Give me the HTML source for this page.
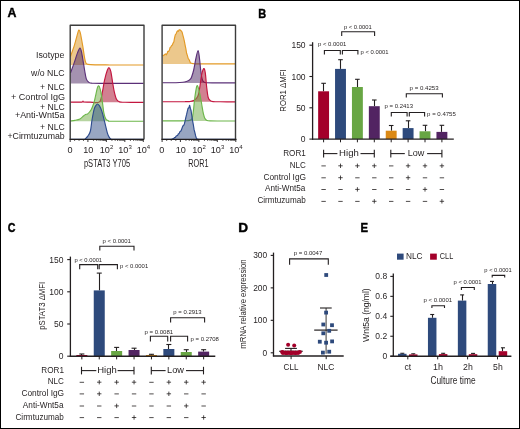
<!DOCTYPE html>
<html><head><meta charset="utf-8"><style>
html,body{margin:0;padding:0;background:#fff;}
svg{display:block;will-change:transform;}
text{font-family:"Liberation Sans",sans-serif;}
</style></head><body>
<svg width="520" height="429" viewBox="0 0 520 429" fill="#231f20">
<rect width="520" height="429" fill="#fff"/>
<text x="7.44" y="17.45" font-size="12.46376811594203" textLength="8.95" lengthAdjust="spacingAndGlyphs" font-weight="bold" fill="#000" stroke="#000" stroke-width="0.4">A</text>
<text x="258.34" y="17.50" font-size="12.39130434782609" textLength="7.93" lengthAdjust="spacingAndGlyphs" font-weight="bold" fill="#000" stroke="#000" stroke-width="0.4">B</text>
<text x="7.72" y="231.53" font-size="12.394366197183116" textLength="7.72" lengthAdjust="spacingAndGlyphs" font-weight="bold" fill="#000" stroke="#000" stroke-width="0.4">C</text>
<text x="238.36" y="231.65" font-size="12.608695652173939" textLength="9.86" lengthAdjust="spacingAndGlyphs" font-weight="bold" fill="#000" stroke="#000" stroke-width="0.4">D</text>
<text x="360.51" y="231.65" font-size="12.463768115942022" textLength="7.56" lengthAdjust="spacingAndGlyphs" font-weight="bold" fill="#000" stroke="#000" stroke-width="0.4">E</text>
<path d="M70.50,56.45 C71.17,54.53 73.33,48.70 74.50,44.95 C75.67,41.20 76.78,36.42 77.50,33.95 C78.22,31.48 78.33,30.32 78.80,30.15 C79.27,29.98 79.62,30.15 80.30,32.95 C80.98,35.75 82.18,42.78 82.90,46.95 C83.62,51.12 84.10,55.28 84.60,57.95 C85.10,60.62 85.33,61.88 85.90,62.95 C86.47,64.02 86.48,64.03 88.00,64.35 C89.52,64.67 91.33,64.75 95.00,64.85 C98.67,64.95 101.92,64.93 110.00,64.95 C118.08,64.97 137.92,64.95 143.50,64.95 L143.50,64.95 L70.70,64.95 Z" stroke="none" fill="#d99119" stroke-width="1.2" fill-opacity="0.5"/>
<path d="M70.50,56.45 C71.17,54.53 73.33,48.70 74.50,44.95 C75.67,41.20 76.78,36.42 77.50,33.95 C78.22,31.48 78.33,30.32 78.80,30.15 C79.27,29.98 79.62,30.15 80.30,32.95 C80.98,35.75 82.18,42.78 82.90,46.95 C83.62,51.12 84.10,55.28 84.60,57.95 C85.10,60.62 85.33,61.88 85.90,62.95 C86.47,64.02 86.48,64.03 88.00,64.35 C89.52,64.67 91.33,64.75 95.00,64.85 C98.67,64.95 101.92,64.93 110.00,64.95 C118.08,64.97 137.92,64.95 143.50,64.95" stroke="#e39a26" fill="none" stroke-width="1.15" stroke-linejoin="round"/>
<path d="M70.50,72.90 C71.08,71.32 72.83,66.73 74.00,63.40 C75.17,60.07 76.50,55.45 77.50,52.90 C78.50,50.35 79.32,48.18 80.00,48.10 C80.68,48.02 80.87,48.92 81.60,52.40 C82.33,55.88 83.62,64.58 84.40,69.00 C85.18,73.42 85.55,76.67 86.30,78.90 C87.05,81.13 87.95,81.68 88.90,82.40 C89.85,83.12 90.15,83.03 92.00,83.20 C93.85,83.37 91.42,83.37 100.00,83.40 C108.58,83.43 136.25,83.40 143.50,83.40 L143.50,83.40 L70.70,83.40 Z" stroke="none" fill="#4b2561" stroke-width="1.2" fill-opacity="0.5"/>
<path d="M70.50,72.90 C71.08,71.32 72.83,66.73 74.00,63.40 C75.17,60.07 76.50,55.45 77.50,52.90 C78.50,50.35 79.32,48.18 80.00,48.10 C80.68,48.02 80.87,48.92 81.60,52.40 C82.33,55.88 83.62,64.58 84.40,69.00 C85.18,73.42 85.55,76.67 86.30,78.90 C87.05,81.13 87.95,81.68 88.90,82.40 C89.85,83.12 90.15,83.03 92.00,83.20 C93.85,83.37 91.42,83.37 100.00,83.40 C108.58,83.43 136.25,83.40 143.50,83.40" stroke="#5b3078" fill="none" stroke-width="1.15" stroke-linejoin="round"/>
<path d="M70.50,102.10 C72.08,102.10 78.03,102.12 80.00,102.10 C81.97,102.08 81.80,102.17 82.30,102.00 C82.80,101.83 82.75,101.10 83.00,101.10 C83.25,101.10 82.63,101.83 83.80,102.00 C84.97,102.17 87.40,102.12 90.00,102.10 C92.60,102.08 97.33,103.60 99.40,101.90 C101.47,100.20 101.55,95.50 102.40,91.90 C103.25,88.30 103.68,83.90 104.50,80.30 C105.32,76.70 106.53,72.40 107.30,70.30 C108.07,68.20 108.52,67.53 109.10,67.70 C109.68,67.87 110.22,68.87 110.80,71.30 C111.38,73.73 112.02,78.87 112.60,82.30 C113.18,85.73 113.65,89.07 114.30,91.90 C114.95,94.73 115.63,97.63 116.50,99.30 C117.37,100.97 118.08,101.40 119.50,101.90 C120.92,102.40 121.00,102.23 125.00,102.30 C129.00,102.37 140.42,102.30 143.50,102.30 L143.50,102.30 L70.70,102.30 Z" stroke="none" fill="#a50123" stroke-width="1.2" fill-opacity="0.5"/>
<path d="M70.50,102.10 C72.08,102.10 78.03,102.12 80.00,102.10 C81.97,102.08 81.80,102.17 82.30,102.00 C82.80,101.83 82.75,101.10 83.00,101.10 C83.25,101.10 82.63,101.83 83.80,102.00 C84.97,102.17 87.40,102.12 90.00,102.10 C92.60,102.08 97.33,103.60 99.40,101.90 C101.47,100.20 101.55,95.50 102.40,91.90 C103.25,88.30 103.68,83.90 104.50,80.30 C105.32,76.70 106.53,72.40 107.30,70.30 C108.07,68.20 108.52,67.53 109.10,67.70 C109.68,67.87 110.22,68.87 110.80,71.30 C111.38,73.73 112.02,78.87 112.60,82.30 C113.18,85.73 113.65,89.07 114.30,91.90 C114.95,94.73 115.63,97.63 116.50,99.30 C117.37,100.97 118.08,101.40 119.50,101.90 C120.92,102.40 121.00,102.23 125.00,102.30 C129.00,102.37 140.42,102.30 143.50,102.30" stroke="#c3163f" fill="none" stroke-width="1.15" stroke-linejoin="round"/>
<path d="M70.50,120.90 C71.25,120.82 73.42,120.72 75.00,120.40 C76.58,120.08 78.58,119.73 80.00,119.00 C81.42,118.27 82.58,116.77 83.50,116.00 C84.42,115.23 84.80,114.75 85.50,114.40 C86.20,114.05 86.78,114.63 87.70,113.90 C88.62,113.17 90.00,111.73 91.00,110.00 C92.00,108.27 92.95,105.80 93.70,103.50 C94.45,101.20 94.90,98.75 95.50,96.20 C96.10,93.65 96.77,89.93 97.30,88.20 C97.83,86.47 98.22,85.63 98.70,85.80 C99.18,85.97 99.72,87.47 100.20,89.20 C100.68,90.93 101.17,93.53 101.60,96.20 C102.03,98.87 102.43,102.45 102.80,105.20 C103.17,107.95 103.43,110.70 103.80,112.70 C104.17,114.70 104.58,116.05 105.00,117.20 C105.42,118.35 105.72,119.00 106.30,119.60 C106.88,120.20 107.55,120.53 108.50,120.80 C109.45,121.07 106.17,121.13 112.00,121.20 C117.83,121.27 138.25,121.20 143.50,121.20 L143.50,121.20 L70.70,121.20 Z" stroke="none" fill="#6da941" stroke-width="1.2" fill-opacity="0.5"/>
<path d="M70.50,120.90 C71.25,120.82 73.42,120.72 75.00,120.40 C76.58,120.08 78.58,119.73 80.00,119.00 C81.42,118.27 82.58,116.77 83.50,116.00 C84.42,115.23 84.80,114.75 85.50,114.40 C86.20,114.05 86.78,114.63 87.70,113.90 C88.62,113.17 90.00,111.73 91.00,110.00 C92.00,108.27 92.95,105.80 93.70,103.50 C94.45,101.20 94.90,98.75 95.50,96.20 C96.10,93.65 96.77,89.93 97.30,88.20 C97.83,86.47 98.22,85.63 98.70,85.80 C99.18,85.97 99.72,87.47 100.20,89.20 C100.68,90.93 101.17,93.53 101.60,96.20 C102.03,98.87 102.43,102.45 102.80,105.20 C103.17,107.95 103.43,110.70 103.80,112.70 C104.17,114.70 104.58,116.05 105.00,117.20 C105.42,118.35 105.72,119.00 106.30,119.60 C106.88,120.20 107.55,120.53 108.50,120.80 C109.45,121.07 106.17,121.13 112.00,121.20 C117.83,121.27 138.25,121.20 143.50,121.20" stroke="#6cb64a" fill="none" stroke-width="1.15" stroke-linejoin="round"/>
<path d="M70.70,139.40 C72.92,139.37 81.53,139.33 84.00,139.20 C86.47,139.07 84.83,139.15 85.50,138.60 C86.17,138.05 87.18,137.17 88.00,135.90 C88.82,134.63 89.73,133.65 90.40,131.00 C91.07,128.35 91.37,123.65 92.00,120.00 C92.63,116.35 93.53,111.53 94.20,109.10 C94.87,106.67 95.45,106.25 96.00,105.40 C96.55,104.55 96.92,103.92 97.50,104.00 C98.08,104.08 98.77,104.67 99.50,105.90 C100.23,107.13 101.03,108.68 101.90,111.40 C102.77,114.12 103.78,118.58 104.70,122.20 C105.62,125.82 106.63,130.57 107.40,133.10 C108.17,135.63 108.70,136.40 109.30,137.40 C109.90,138.40 110.38,138.77 111.00,139.10 C111.62,139.43 107.58,139.35 113.00,139.40 C118.42,139.45 138.42,139.40 143.50,139.40 L143.50,139.40 L70.70,139.40 Z" stroke="none" fill="#314d85" stroke-width="1.2" fill-opacity="0.5"/>
<path d="M70.70,139.40 C72.92,139.37 81.53,139.33 84.00,139.20 C86.47,139.07 84.83,139.15 85.50,138.60 C86.17,138.05 87.18,137.17 88.00,135.90 C88.82,134.63 89.73,133.65 90.40,131.00 C91.07,128.35 91.37,123.65 92.00,120.00 C92.63,116.35 93.53,111.53 94.20,109.10 C94.87,106.67 95.45,106.25 96.00,105.40 C96.55,104.55 96.92,103.92 97.50,104.00 C98.08,104.08 98.77,104.67 99.50,105.90 C100.23,107.13 101.03,108.68 101.90,111.40 C102.77,114.12 103.78,118.58 104.70,122.20 C105.62,125.82 106.63,130.57 107.40,133.10 C108.17,135.63 108.70,136.40 109.30,137.40 C109.90,138.40 110.38,138.77 111.00,139.10 C111.62,139.43 107.58,139.35 113.00,139.40 C118.42,139.45 138.42,139.40 143.50,139.40" stroke="#2d4b8e" fill="none" stroke-width="1.15" stroke-linejoin="round"/>
<path d="M162.60,56.07 L163.35,55.20 L164.10,55.17 L164.85,54.25 L165.60,53.91 L166.35,54.79 L167.10,53.56 L167.85,51.24 L168.60,51.41 L169.35,50.28 L170.10,47.39 L170.85,46.92 L171.60,45.58 L172.35,44.94 L173.10,43.04 L173.85,41.91 L174.60,37.72 L175.35,34.58 L176.10,33.93 L176.85,31.85 L177.60,30.84 L178.35,31.37 L179.10,29.72 L179.85,29.75 L180.60,30.50 L181.35,30.89 L182.10,32.23 L182.85,35.11 L183.60,37.89 L184.35,41.13 L185.10,45.11 L185.85,48.67 L186.60,53.24 L187.35,55.38 L188.10,58.20 L188.85,59.32 L189.60,60.71 L190.35,62.69 L191.10,63.08 L191.85,63.29 L192.60,63.56 L193.35,63.66 L194.10,63.77 L194.85,63.88 L195.60,63.90 L196.35,63.90 L197.10,63.90 L197.85,63.90 L198.60,63.90 L199.35,63.90 L200.10,63.90 L200.85,63.90 L201.60,63.90 L202.35,63.90 L203.10,63.90 L203.85,63.90 L204.60,63.90 L205.35,63.90 L206.10,63.90 L206.85,63.90 L207.60,63.90 L208.35,63.90 L209.10,63.90 L209.85,63.90 L210.60,63.90 L211.35,63.90 L212.10,63.90 L212.85,63.90 L213.60,63.90 L214.35,63.90 L215.10,63.90 L215.85,63.90 L216.60,63.90 L217.35,63.90 L218.10,63.90 L218.85,63.90 L219.60,63.90 L220.35,63.90 L221.10,63.90 L221.85,63.90 L222.60,63.90 L223.35,63.90 L224.10,63.90 L224.85,63.90 L225.60,63.90 L226.35,63.90 L227.10,63.90 L227.85,63.90 L228.60,63.90 L229.35,63.90 L230.10,63.90 L230.85,63.90 L231.60,63.90 L232.35,63.90 L233.10,63.90 L233.85,63.90 L234.60,63.90 L235.00,63.90 L235.00,63.90 L162.60,63.90 Z" stroke="none" fill="#d99119" stroke-width="1.2" fill-opacity="0.5"/>
<path d="M162.60,56.07 L163.35,55.20 L164.10,55.17 L164.85,54.25 L165.60,53.91 L166.35,54.79 L167.10,53.56 L167.85,51.24 L168.60,51.41 L169.35,50.28 L170.10,47.39 L170.85,46.92 L171.60,45.58 L172.35,44.94 L173.10,43.04 L173.85,41.91 L174.60,37.72 L175.35,34.58 L176.10,33.93 L176.85,31.85 L177.60,30.84 L178.35,31.37 L179.10,29.72 L179.85,29.75 L180.60,30.50 L181.35,30.89 L182.10,32.23 L182.85,35.11 L183.60,37.89 L184.35,41.13 L185.10,45.11 L185.85,48.67 L186.60,53.24 L187.35,55.38 L188.10,58.20 L188.85,59.32 L189.60,60.71 L190.35,62.69 L191.10,63.08 L191.85,63.29 L192.60,63.56 L193.35,63.66 L194.10,63.77 L194.85,63.88 L195.60,63.90 L196.35,63.90 L197.10,63.90 L197.85,63.90 L198.60,63.90 L199.35,63.90 L200.10,63.90 L200.85,63.90 L201.60,63.90 L202.35,63.90 L203.10,63.90 L203.85,63.90 L204.60,63.90 L205.35,63.90 L206.10,63.90 L206.85,63.90 L207.60,63.90 L208.35,63.90 L209.10,63.90 L209.85,63.90 L210.60,63.90 L211.35,63.90 L212.10,63.90 L212.85,63.90 L213.60,63.90 L214.35,63.90 L215.10,63.90 L215.85,63.90 L216.60,63.90 L217.35,63.90 L218.10,63.90 L218.85,63.90 L219.60,63.90 L220.35,63.90 L221.10,63.90 L221.85,63.90 L222.60,63.90 L223.35,63.90 L224.10,63.90 L224.85,63.90 L225.60,63.90 L226.35,63.90 L227.10,63.90 L227.85,63.90 L228.60,63.90 L229.35,63.90 L230.10,63.90 L230.85,63.90 L231.60,63.90 L232.35,63.90 L233.10,63.90 L233.85,63.90 L234.60,63.90 L235.00,63.90" stroke="#e39a26" fill="none" stroke-width="1.15" stroke-linejoin="round"/>
<path d="M162.60,82.80 C164.83,82.78 172.62,82.78 176.00,82.70 C179.38,82.62 181.15,82.50 182.90,82.30 C184.65,82.10 185.53,81.80 186.50,81.50 C187.47,81.20 188.07,80.90 188.70,80.50 C189.33,80.10 189.82,79.68 190.30,79.10 C190.78,78.52 191.03,78.52 191.60,77.00 C192.17,75.48 192.98,73.08 193.70,70.00 C194.42,66.92 195.17,61.75 195.90,58.50 C196.63,55.25 197.50,50.50 198.10,50.50 C198.70,50.50 199.08,55.35 199.50,58.50 C199.92,61.65 200.23,66.32 200.60,69.40 C200.97,72.48 201.33,75.12 201.70,77.00 C202.07,78.88 202.45,79.88 202.80,80.70 C203.15,81.52 203.27,81.57 203.80,81.90 C204.33,82.23 204.63,82.53 206.00,82.70 C207.37,82.87 207.17,82.87 212.00,82.90 C216.83,82.93 231.17,82.90 235.00,82.90 L235.00,82.90 L162.60,82.90 Z" stroke="none" fill="#4b2561" stroke-width="1.2" fill-opacity="0.5"/>
<path d="M162.60,82.80 C164.83,82.78 172.62,82.78 176.00,82.70 C179.38,82.62 181.15,82.50 182.90,82.30 C184.65,82.10 185.53,81.80 186.50,81.50 C187.47,81.20 188.07,80.90 188.70,80.50 C189.33,80.10 189.82,79.68 190.30,79.10 C190.78,78.52 191.03,78.52 191.60,77.00 C192.17,75.48 192.98,73.08 193.70,70.00 C194.42,66.92 195.17,61.75 195.90,58.50 C196.63,55.25 197.50,50.50 198.10,50.50 C198.70,50.50 199.08,55.35 199.50,58.50 C199.92,61.65 200.23,66.32 200.60,69.40 C200.97,72.48 201.33,75.12 201.70,77.00 C202.07,78.88 202.45,79.88 202.80,80.70 C203.15,81.52 203.27,81.57 203.80,81.90 C204.33,82.23 204.63,82.53 206.00,82.70 C207.37,82.87 207.17,82.87 212.00,82.90 C216.83,82.93 231.17,82.90 235.00,82.90" stroke="#5b3078" fill="none" stroke-width="1.15" stroke-linejoin="round"/>
<path d="M162.60,101.70 C166.33,101.70 180.43,101.73 185.00,101.70 C189.57,101.67 188.58,101.68 190.00,101.50 C191.42,101.32 192.52,101.03 193.50,100.60 C194.48,100.17 195.23,99.53 195.90,98.90 C196.57,98.27 197.02,97.77 197.50,96.80 C197.98,95.83 198.35,95.15 198.80,93.10 C199.25,91.05 199.72,87.63 200.20,84.50 C200.68,81.37 201.10,76.95 201.70,74.30 C202.30,71.65 203.20,68.83 203.80,68.60 C204.40,68.37 204.82,69.77 205.30,72.90 C205.78,76.03 206.22,83.30 206.70,87.40 C207.18,91.50 207.60,95.30 208.20,97.50 C208.80,99.70 209.50,99.92 210.30,100.60 C211.10,101.28 211.38,101.40 213.00,101.60 C214.62,101.80 216.33,101.77 220.00,101.80 C223.67,101.83 232.50,101.80 235.00,101.80 L235.00,101.80 L162.60,101.80 Z" stroke="none" fill="#a50123" stroke-width="1.2" fill-opacity="0.5"/>
<path d="M162.60,101.70 C166.33,101.70 180.43,101.73 185.00,101.70 C189.57,101.67 188.58,101.68 190.00,101.50 C191.42,101.32 192.52,101.03 193.50,100.60 C194.48,100.17 195.23,99.53 195.90,98.90 C196.57,98.27 197.02,97.77 197.50,96.80 C197.98,95.83 198.35,95.15 198.80,93.10 C199.25,91.05 199.72,87.63 200.20,84.50 C200.68,81.37 201.10,76.95 201.70,74.30 C202.30,71.65 203.20,68.83 203.80,68.60 C204.40,68.37 204.82,69.77 205.30,72.90 C205.78,76.03 206.22,83.30 206.70,87.40 C207.18,91.50 207.60,95.30 208.20,97.50 C208.80,99.70 209.50,99.92 210.30,100.60 C211.10,101.28 211.38,101.40 213.00,101.60 C214.62,101.80 216.33,101.77 220.00,101.80 C223.67,101.83 232.50,101.80 235.00,101.80" stroke="#c3163f" fill="none" stroke-width="1.15" stroke-linejoin="round"/>
<path d="M162.60,120.90 C165.50,120.90 176.10,120.92 180.00,120.90 C183.90,120.88 184.40,120.88 186.00,120.80 C187.60,120.72 188.70,120.63 189.60,120.40 C190.50,120.17 190.93,119.88 191.40,119.40 C191.87,118.92 192.05,119.07 192.40,117.50 C192.75,115.93 193.15,112.88 193.50,110.00 C193.85,107.12 194.10,103.47 194.50,100.20 C194.90,96.93 195.43,92.85 195.90,90.40 C196.37,87.95 196.72,85.27 197.30,85.50 C197.88,85.73 198.70,88.88 199.40,91.80 C200.10,94.72 200.92,99.73 201.50,103.00 C202.08,106.27 202.48,109.23 202.90,111.40 C203.32,113.57 203.65,114.80 204.00,116.00 C204.35,117.20 204.50,117.87 205.00,118.60 C205.50,119.33 206.17,120.02 207.00,120.40 C207.83,120.78 207.83,120.80 210.00,120.90 C212.17,121.00 215.83,120.98 220.00,121.00 C224.17,121.02 232.50,121.00 235.00,121.00 L235.00,121.00 L162.60,121.00 Z" stroke="none" fill="#6da941" stroke-width="1.2" fill-opacity="0.5"/>
<path d="M162.60,120.90 C165.50,120.90 176.10,120.92 180.00,120.90 C183.90,120.88 184.40,120.88 186.00,120.80 C187.60,120.72 188.70,120.63 189.60,120.40 C190.50,120.17 190.93,119.88 191.40,119.40 C191.87,118.92 192.05,119.07 192.40,117.50 C192.75,115.93 193.15,112.88 193.50,110.00 C193.85,107.12 194.10,103.47 194.50,100.20 C194.90,96.93 195.43,92.85 195.90,90.40 C196.37,87.95 196.72,85.27 197.30,85.50 C197.88,85.73 198.70,88.88 199.40,91.80 C200.10,94.72 200.92,99.73 201.50,103.00 C202.08,106.27 202.48,109.23 202.90,111.40 C203.32,113.57 203.65,114.80 204.00,116.00 C204.35,117.20 204.50,117.87 205.00,118.60 C205.50,119.33 206.17,120.02 207.00,120.40 C207.83,120.78 207.83,120.80 210.00,120.90 C212.17,121.00 215.83,120.98 220.00,121.00 C224.17,121.02 232.50,121.00 235.00,121.00" stroke="#6cb64a" fill="none" stroke-width="1.15" stroke-linejoin="round"/>
<path d="M162.60,139.40 L163.35,139.40 L164.10,139.40 L164.85,139.40 L165.60,139.40 L166.35,139.40 L167.10,139.40 L167.85,139.40 L168.60,139.40 L169.35,139.40 L170.10,139.39 L170.85,139.27 L171.60,139.16 L172.35,138.93 L173.10,138.64 L173.85,138.43 L174.60,137.46 L175.35,137.54 L176.10,136.13 L176.85,135.67 L177.60,135.43 L178.35,133.84 L179.10,133.61 L179.85,131.80 L180.60,131.35 L181.35,130.14 L182.10,128.04 L182.85,125.81 L183.60,125.58 L184.35,123.90 L185.10,120.87 L185.85,117.29 L186.60,114.46 L187.35,111.04 L188.10,108.04 L188.85,108.22 L189.60,105.25 L190.35,108.15 L191.10,110.74 L191.85,116.04 L192.60,120.94 L193.35,124.78 L194.10,129.67 L194.85,132.50 L195.60,135.72 L196.35,138.10 L197.10,139.02 L197.85,139.17 L198.60,139.32 L199.35,139.40 L200.10,139.40 L200.85,139.40 L201.60,139.40 L202.35,139.40 L203.10,139.40 L203.85,139.40 L204.60,139.40 L205.35,139.40 L206.10,139.40 L206.85,139.40 L207.60,139.40 L208.35,139.40 L209.10,139.40 L209.85,139.40 L210.60,139.40 L211.35,139.40 L212.10,139.40 L212.85,139.40 L213.60,139.40 L214.35,139.40 L215.10,139.40 L215.85,139.40 L216.60,139.40 L217.35,139.40 L218.10,139.40 L218.85,139.40 L219.60,139.40 L220.35,139.40 L221.10,139.40 L221.85,139.40 L222.60,139.40 L223.35,139.40 L224.10,139.40 L224.85,139.40 L225.60,139.40 L226.35,139.40 L227.10,139.40 L227.85,139.40 L228.60,139.40 L229.35,139.40 L230.10,139.40 L230.85,139.40 L231.60,139.40 L232.35,139.40 L233.10,139.40 L233.85,139.40 L234.60,139.40 L235.00,139.40 L235.00,139.40 L162.60,139.40 Z" stroke="none" fill="#314d85" stroke-width="1.2" fill-opacity="0.5"/>
<path d="M162.60,139.40 L163.35,139.40 L164.10,139.40 L164.85,139.40 L165.60,139.40 L166.35,139.40 L167.10,139.40 L167.85,139.40 L168.60,139.40 L169.35,139.40 L170.10,139.39 L170.85,139.27 L171.60,139.16 L172.35,138.93 L173.10,138.64 L173.85,138.43 L174.60,137.46 L175.35,137.54 L176.10,136.13 L176.85,135.67 L177.60,135.43 L178.35,133.84 L179.10,133.61 L179.85,131.80 L180.60,131.35 L181.35,130.14 L182.10,128.04 L182.85,125.81 L183.60,125.58 L184.35,123.90 L185.10,120.87 L185.85,117.29 L186.60,114.46 L187.35,111.04 L188.10,108.04 L188.85,108.22 L189.60,105.25 L190.35,108.15 L191.10,110.74 L191.85,116.04 L192.60,120.94 L193.35,124.78 L194.10,129.67 L194.85,132.50 L195.60,135.72 L196.35,138.10 L197.10,139.02 L197.85,139.17 L198.60,139.32 L199.35,139.40 L200.10,139.40 L200.85,139.40 L201.60,139.40 L202.35,139.40 L203.10,139.40 L203.85,139.40 L204.60,139.40 L205.35,139.40 L206.10,139.40 L206.85,139.40 L207.60,139.40 L208.35,139.40 L209.10,139.40 L209.85,139.40 L210.60,139.40 L211.35,139.40 L212.10,139.40 L212.85,139.40 L213.60,139.40 L214.35,139.40 L215.10,139.40 L215.85,139.40 L216.60,139.40 L217.35,139.40 L218.10,139.40 L218.85,139.40 L219.60,139.40 L220.35,139.40 L221.10,139.40 L221.85,139.40 L222.60,139.40 L223.35,139.40 L224.10,139.40 L224.85,139.40 L225.60,139.40 L226.35,139.40 L227.10,139.40 L227.85,139.40 L228.60,139.40 L229.35,139.40 L230.10,139.40 L230.85,139.40 L231.60,139.40 L232.35,139.40 L233.10,139.40 L233.85,139.40 L234.60,139.40 L235.00,139.40" stroke="#2d4b8e" fill="none" stroke-width="1.15" stroke-linejoin="round"/>
<path d="M70.2,139.4 L70.2,25.2 L144.0,25.2 L144.0,139.4" stroke="#3c3c3c" fill="none" stroke-width="1.4" stroke-linejoin="round"/>
<path d="M162.1,139.4 L162.1,25.2 L235.5,25.2 L235.5,139.4" stroke="#3c3c3c" fill="none" stroke-width="1.4" stroke-linejoin="round"/>
<line x1="69.50" y1="139.40" x2="144.01" y2="139.40" stroke="#231f20" stroke-width="1.3"/>
<line x1="70.20" y1="139.40" x2="70.20" y2="142.00" stroke="#231f20" stroke-width="0.9"/>
<line x1="87.90" y1="139.40" x2="87.90" y2="142.00" stroke="#231f20" stroke-width="0.9"/>
<line x1="106.37" y1="139.40" x2="106.37" y2="142.00" stroke="#231f20" stroke-width="0.9"/>
<line x1="124.84" y1="139.40" x2="124.84" y2="142.00" stroke="#231f20" stroke-width="0.9"/>
<line x1="143.31" y1="139.40" x2="143.31" y2="142.00" stroke="#231f20" stroke-width="0.9"/>
<line x1="74.62" y1="139.40" x2="74.62" y2="141.00" stroke="#231f20" stroke-width="0.7"/>
<line x1="79.05" y1="139.40" x2="79.05" y2="141.00" stroke="#231f20" stroke-width="0.7"/>
<line x1="83.48" y1="139.40" x2="83.48" y2="141.00" stroke="#231f20" stroke-width="0.7"/>
<line x1="93.46" y1="139.40" x2="93.46" y2="141.00" stroke="#231f20" stroke-width="0.7"/>
<line x1="96.71" y1="139.40" x2="96.71" y2="141.00" stroke="#231f20" stroke-width="0.7"/>
<line x1="99.02" y1="139.40" x2="99.02" y2="141.00" stroke="#231f20" stroke-width="0.7"/>
<line x1="100.81" y1="139.40" x2="100.81" y2="141.00" stroke="#231f20" stroke-width="0.7"/>
<line x1="102.27" y1="139.40" x2="102.27" y2="141.00" stroke="#231f20" stroke-width="0.7"/>
<line x1="103.51" y1="139.40" x2="103.51" y2="141.00" stroke="#231f20" stroke-width="0.7"/>
<line x1="104.58" y1="139.40" x2="104.58" y2="141.00" stroke="#231f20" stroke-width="0.7"/>
<line x1="105.52" y1="139.40" x2="105.52" y2="141.00" stroke="#231f20" stroke-width="0.7"/>
<line x1="111.93" y1="139.40" x2="111.93" y2="141.00" stroke="#231f20" stroke-width="0.7"/>
<line x1="115.18" y1="139.40" x2="115.18" y2="141.00" stroke="#231f20" stroke-width="0.7"/>
<line x1="117.49" y1="139.40" x2="117.49" y2="141.00" stroke="#231f20" stroke-width="0.7"/>
<line x1="119.28" y1="139.40" x2="119.28" y2="141.00" stroke="#231f20" stroke-width="0.7"/>
<line x1="120.74" y1="139.40" x2="120.74" y2="141.00" stroke="#231f20" stroke-width="0.7"/>
<line x1="121.98" y1="139.40" x2="121.98" y2="141.00" stroke="#231f20" stroke-width="0.7"/>
<line x1="123.05" y1="139.40" x2="123.05" y2="141.00" stroke="#231f20" stroke-width="0.7"/>
<line x1="123.99" y1="139.40" x2="123.99" y2="141.00" stroke="#231f20" stroke-width="0.7"/>
<line x1="130.40" y1="139.40" x2="130.40" y2="141.00" stroke="#231f20" stroke-width="0.7"/>
<line x1="133.65" y1="139.40" x2="133.65" y2="141.00" stroke="#231f20" stroke-width="0.7"/>
<line x1="135.96" y1="139.40" x2="135.96" y2="141.00" stroke="#231f20" stroke-width="0.7"/>
<line x1="137.75" y1="139.40" x2="137.75" y2="141.00" stroke="#231f20" stroke-width="0.7"/>
<line x1="139.21" y1="139.40" x2="139.21" y2="141.00" stroke="#231f20" stroke-width="0.7"/>
<line x1="140.45" y1="139.40" x2="140.45" y2="141.00" stroke="#231f20" stroke-width="0.7"/>
<line x1="141.52" y1="139.40" x2="141.52" y2="141.00" stroke="#231f20" stroke-width="0.7"/>
<line x1="142.46" y1="139.40" x2="142.46" y2="141.00" stroke="#231f20" stroke-width="0.7"/>
<text x="70.00" y="153.00" font-size="9.1" text-anchor="middle">0</text>
<text x="88.20" y="153.00" font-size="9.1" text-anchor="middle">10</text>
<text x="104.77" y="153.00" font-size="9.1" text-anchor="middle">10</text>
<text x="109.93" y="148.80" font-size="6.0">2</text>
<text x="123.24" y="153.00" font-size="9.1" text-anchor="middle">10</text>
<text x="128.40" y="148.80" font-size="6.0">3</text>
<text x="141.71" y="153.00" font-size="9.1" text-anchor="middle">10</text>
<text x="146.87" y="148.80" font-size="6.0">4</text>
<line x1="161.40" y1="139.40" x2="236.51" y2="139.40" stroke="#231f20" stroke-width="1.3"/>
<line x1="162.10" y1="139.40" x2="162.10" y2="142.00" stroke="#231f20" stroke-width="0.9"/>
<line x1="180.40" y1="139.40" x2="180.40" y2="142.00" stroke="#231f20" stroke-width="0.9"/>
<line x1="198.87" y1="139.40" x2="198.87" y2="142.00" stroke="#231f20" stroke-width="0.9"/>
<line x1="217.34" y1="139.40" x2="217.34" y2="142.00" stroke="#231f20" stroke-width="0.9"/>
<line x1="235.81" y1="139.40" x2="235.81" y2="142.00" stroke="#231f20" stroke-width="0.9"/>
<line x1="166.68" y1="139.40" x2="166.68" y2="141.00" stroke="#231f20" stroke-width="0.7"/>
<line x1="171.25" y1="139.40" x2="171.25" y2="141.00" stroke="#231f20" stroke-width="0.7"/>
<line x1="175.82" y1="139.40" x2="175.82" y2="141.00" stroke="#231f20" stroke-width="0.7"/>
<line x1="185.96" y1="139.40" x2="185.96" y2="141.00" stroke="#231f20" stroke-width="0.7"/>
<line x1="189.21" y1="139.40" x2="189.21" y2="141.00" stroke="#231f20" stroke-width="0.7"/>
<line x1="191.52" y1="139.40" x2="191.52" y2="141.00" stroke="#231f20" stroke-width="0.7"/>
<line x1="193.31" y1="139.40" x2="193.31" y2="141.00" stroke="#231f20" stroke-width="0.7"/>
<line x1="194.77" y1="139.40" x2="194.77" y2="141.00" stroke="#231f20" stroke-width="0.7"/>
<line x1="196.01" y1="139.40" x2="196.01" y2="141.00" stroke="#231f20" stroke-width="0.7"/>
<line x1="197.08" y1="139.40" x2="197.08" y2="141.00" stroke="#231f20" stroke-width="0.7"/>
<line x1="198.02" y1="139.40" x2="198.02" y2="141.00" stroke="#231f20" stroke-width="0.7"/>
<line x1="204.43" y1="139.40" x2="204.43" y2="141.00" stroke="#231f20" stroke-width="0.7"/>
<line x1="207.68" y1="139.40" x2="207.68" y2="141.00" stroke="#231f20" stroke-width="0.7"/>
<line x1="209.99" y1="139.40" x2="209.99" y2="141.00" stroke="#231f20" stroke-width="0.7"/>
<line x1="211.78" y1="139.40" x2="211.78" y2="141.00" stroke="#231f20" stroke-width="0.7"/>
<line x1="213.24" y1="139.40" x2="213.24" y2="141.00" stroke="#231f20" stroke-width="0.7"/>
<line x1="214.48" y1="139.40" x2="214.48" y2="141.00" stroke="#231f20" stroke-width="0.7"/>
<line x1="215.55" y1="139.40" x2="215.55" y2="141.00" stroke="#231f20" stroke-width="0.7"/>
<line x1="216.49" y1="139.40" x2="216.49" y2="141.00" stroke="#231f20" stroke-width="0.7"/>
<line x1="222.90" y1="139.40" x2="222.90" y2="141.00" stroke="#231f20" stroke-width="0.7"/>
<line x1="226.15" y1="139.40" x2="226.15" y2="141.00" stroke="#231f20" stroke-width="0.7"/>
<line x1="228.46" y1="139.40" x2="228.46" y2="141.00" stroke="#231f20" stroke-width="0.7"/>
<line x1="230.25" y1="139.40" x2="230.25" y2="141.00" stroke="#231f20" stroke-width="0.7"/>
<line x1="231.71" y1="139.40" x2="231.71" y2="141.00" stroke="#231f20" stroke-width="0.7"/>
<line x1="232.95" y1="139.40" x2="232.95" y2="141.00" stroke="#231f20" stroke-width="0.7"/>
<line x1="234.02" y1="139.40" x2="234.02" y2="141.00" stroke="#231f20" stroke-width="0.7"/>
<line x1="234.96" y1="139.40" x2="234.96" y2="141.00" stroke="#231f20" stroke-width="0.7"/>
<text x="161.90" y="153.00" font-size="9.1" text-anchor="middle">0</text>
<text x="180.70" y="153.00" font-size="9.1" text-anchor="middle">10</text>
<text x="197.27" y="153.00" font-size="9.1" text-anchor="middle">10</text>
<text x="202.43" y="148.80" font-size="6.0">2</text>
<text x="215.74" y="153.00" font-size="9.1" text-anchor="middle">10</text>
<text x="220.90" y="148.80" font-size="6.0">3</text>
<text x="234.21" y="153.00" font-size="9.1" text-anchor="middle">10</text>
<text x="239.37" y="148.80" font-size="6.0">4</text>
<text x="83.91" y="166.90" font-size="10.0" textLength="46.19" lengthAdjust="spacingAndGlyphs">pSTAT3 Y705</text>
<text x="188.22" y="166.70" font-size="10.2" textLength="20.27" lengthAdjust="spacingAndGlyphs">ROR1</text>
<text x="36.01" y="58.40" font-size="8.5" textLength="28.38" lengthAdjust="spacingAndGlyphs">Isotype</text>
<text x="31.10" y="76.10" font-size="8.5" textLength="33.49" lengthAdjust="spacingAndGlyphs">w/o NLC</text>
<text x="40.07" y="90.20" font-size="8.5" textLength="24.70" lengthAdjust="spacingAndGlyphs">+ NLC</text>
<text x="11.05" y="100.20" font-size="8.5" textLength="54.03" lengthAdjust="spacingAndGlyphs">+ Control IgG</text>
<text x="40.07" y="109.80" font-size="8.5" textLength="24.70" lengthAdjust="spacingAndGlyphs">+ NLC</text>
<text x="14.95" y="118.20" font-size="8.5" textLength="49.45" lengthAdjust="spacingAndGlyphs">+Anti-Wnt5a</text>
<text x="40.07" y="130.00" font-size="8.5" textLength="24.70" lengthAdjust="spacingAndGlyphs">+ NLC</text>
<text x="7.46" y="139.40" font-size="8.5" textLength="57.29" lengthAdjust="spacingAndGlyphs">+Cirmtuzumab</text>
<line x1="312.60" y1="42.20" x2="312.60" y2="139.70" stroke="#231f20" stroke-width="1.3"/>
<line x1="309.40" y1="139.10" x2="312.60" y2="139.10" stroke="#231f20" stroke-width="1.1"/>
<text x="305.60" y="142.10" font-size="8.5" text-anchor="end">0</text>
<line x1="309.40" y1="107.80" x2="312.60" y2="107.80" stroke="#231f20" stroke-width="1.1"/>
<text x="305.60" y="110.80" font-size="8.5" text-anchor="end">50</text>
<line x1="309.40" y1="76.50" x2="312.60" y2="76.50" stroke="#231f20" stroke-width="1.1"/>
<text x="305.60" y="79.50" font-size="8.5" text-anchor="end">100</text>
<line x1="309.40" y1="45.20" x2="312.60" y2="45.20" stroke="#231f20" stroke-width="1.1"/>
<text x="305.60" y="48.20" font-size="8.5" text-anchor="end">150</text>
<text x="0" y="0" font-size="9.7" text-anchor="middle" textLength="42.3" lengthAdjust="spacingAndGlyphs" fill="#231f20" transform="translate(286.0,90.5) rotate(-90)">ROR1 ΔMFI</text>
<line x1="323.50" y1="91.30" x2="323.50" y2="83.30" stroke="#231f20" stroke-width="1.1"/>
<line x1="321.30" y1="83.30" x2="325.90" y2="83.30" stroke="#231f20" stroke-width="1.1"/>
<rect x="318.15" y="91.30" width="10.90" height="47.80" fill="#a3002a"/>
<line x1="340.50" y1="68.90" x2="340.50" y2="59.70" stroke="#231f20" stroke-width="1.1"/>
<line x1="338.20" y1="59.70" x2="342.80" y2="59.70" stroke="#231f20" stroke-width="1.1"/>
<rect x="335.05" y="68.90" width="10.90" height="70.20" fill="#2e4a7c"/>
<line x1="357.50" y1="87.00" x2="357.50" y2="79.30" stroke="#231f20" stroke-width="1.1"/>
<line x1="355.10" y1="79.30" x2="359.70" y2="79.30" stroke="#231f20" stroke-width="1.1"/>
<rect x="351.95" y="87.00" width="10.90" height="52.10" fill="#68a644"/>
<line x1="374.50" y1="106.20" x2="374.50" y2="100.00" stroke="#231f20" stroke-width="1.1"/>
<line x1="372.00" y1="100.00" x2="376.60" y2="100.00" stroke="#231f20" stroke-width="1.1"/>
<rect x="368.85" y="106.20" width="10.90" height="32.90" fill="#522462"/>
<line x1="391.50" y1="130.70" x2="391.50" y2="125.50" stroke="#231f20" stroke-width="1.1"/>
<line x1="388.90" y1="125.50" x2="393.50" y2="125.50" stroke="#231f20" stroke-width="1.1"/>
<rect x="385.75" y="130.70" width="10.90" height="8.40" fill="#db8915"/>
<line x1="408.50" y1="128.10" x2="408.50" y2="120.80" stroke="#231f20" stroke-width="1.1"/>
<line x1="405.80" y1="120.80" x2="410.40" y2="120.80" stroke="#231f20" stroke-width="1.1"/>
<rect x="402.65" y="128.10" width="10.90" height="11.00" fill="#2e4a7c"/>
<line x1="425.50" y1="131.30" x2="425.50" y2="125.30" stroke="#231f20" stroke-width="1.1"/>
<line x1="422.70" y1="125.30" x2="427.30" y2="125.30" stroke="#231f20" stroke-width="1.1"/>
<rect x="419.55" y="131.30" width="10.90" height="7.80" fill="#68a644"/>
<line x1="441.50" y1="131.90" x2="441.50" y2="125.30" stroke="#231f20" stroke-width="1.1"/>
<line x1="439.60" y1="125.30" x2="444.20" y2="125.30" stroke="#231f20" stroke-width="1.1"/>
<rect x="436.45" y="131.90" width="10.90" height="7.20" fill="#522462"/>
<line x1="312.00" y1="139.10" x2="453.80" y2="139.10" stroke="#231f20" stroke-width="1.4"/>
<line x1="323.60" y1="139.10" x2="323.60" y2="142.30" stroke="#231f20" stroke-width="1.0"/>
<line x1="340.50" y1="139.10" x2="340.50" y2="142.30" stroke="#231f20" stroke-width="1.0"/>
<line x1="357.40" y1="139.10" x2="357.40" y2="142.30" stroke="#231f20" stroke-width="1.0"/>
<line x1="374.30" y1="139.10" x2="374.30" y2="142.30" stroke="#231f20" stroke-width="1.0"/>
<line x1="391.20" y1="139.10" x2="391.20" y2="142.30" stroke="#231f20" stroke-width="1.0"/>
<line x1="408.10" y1="139.10" x2="408.10" y2="142.30" stroke="#231f20" stroke-width="1.0"/>
<line x1="425.00" y1="139.10" x2="425.00" y2="142.30" stroke="#231f20" stroke-width="1.0"/>
<line x1="441.90" y1="139.10" x2="441.90" y2="142.30" stroke="#231f20" stroke-width="1.0"/>
<path d="M341.70,36.10 L341.70,31.80 L374.60,31.80 L374.60,36.10" stroke="#231f20" fill="none" stroke-width="1.1" stroke-linejoin="miter"/>
<text x="343.92" y="28.50" font-size="5.8" textLength="27.77" lengthAdjust="spacingAndGlyphs">p &lt; 0.0001</text>
<path d="M324.40,54.50 L324.40,50.50 L340.30,50.50 L340.30,54.50" stroke="#231f20" fill="none" stroke-width="1.1" stroke-linejoin="miter"/>
<path d="M342.40,54.50 L342.40,50.50 L357.90,50.50 L357.90,54.50" stroke="#231f20" fill="none" stroke-width="1.1" stroke-linejoin="miter"/>
<text x="317.91" y="46.20" font-size="5.8" textLength="28.38" lengthAdjust="spacingAndGlyphs">p &lt; 0.0001</text>
<text x="360.62" y="54.00" font-size="5.8" textLength="27.87" lengthAdjust="spacingAndGlyphs">p &lt; 0.0001</text>
<path d="M406.30,97.60 L406.30,93.70 L442.40,93.70 L442.40,97.60" stroke="#231f20" fill="none" stroke-width="1.1" stroke-linejoin="miter"/>
<text x="409.60" y="90.00" font-size="5.8" textLength="29.07" lengthAdjust="spacingAndGlyphs">p = 0.4253</text>
<path d="M391.30,116.40 L391.30,112.50 L407.10,112.50 L407.10,116.40" stroke="#231f20" fill="none" stroke-width="1.1" stroke-linejoin="miter"/>
<path d="M409.30,116.40 L409.30,112.50 L424.60,112.50 L424.60,116.40" stroke="#231f20" fill="none" stroke-width="1.1" stroke-linejoin="miter"/>
<text x="384.61" y="107.60" font-size="5.8" textLength="28.35" lengthAdjust="spacingAndGlyphs">p = 0.2413</text>
<text x="427.11" y="116.00" font-size="5.8" textLength="28.73" lengthAdjust="spacingAndGlyphs">p = 0.4755</text>
<text x="283.25" y="156.00" font-size="8.5" textLength="22.58" lengthAdjust="spacingAndGlyphs">ROR1</text>
<text x="289.66" y="167.80" font-size="8.5" textLength="16.07" lengthAdjust="spacingAndGlyphs">NLC</text>
<text x="263.38" y="179.70" font-size="8.5" textLength="42.63" lengthAdjust="spacingAndGlyphs">Control IgG</text>
<text x="264.96" y="191.40" font-size="8.5" textLength="40.45" lengthAdjust="spacingAndGlyphs">Anti-Wnt5a</text>
<text x="257.39" y="203.30" font-size="8.5" textLength="48.34" lengthAdjust="spacingAndGlyphs">Cirmtuzumab</text>
<line x1="321.40" y1="165.90" x2="325.80" y2="165.90" stroke="#231f20" stroke-width="0.8"/>
<line x1="338.30" y1="165.80" x2="342.70" y2="165.80" stroke="#231f20" stroke-width="0.8"/>
<line x1="340.50" y1="163.60" x2="340.50" y2="168.00" stroke="#231f20" stroke-width="0.8"/>
<line x1="355.20" y1="165.80" x2="359.60" y2="165.80" stroke="#231f20" stroke-width="0.8"/>
<line x1="357.40" y1="163.60" x2="357.40" y2="168.00" stroke="#231f20" stroke-width="0.8"/>
<line x1="372.10" y1="165.80" x2="376.50" y2="165.80" stroke="#231f20" stroke-width="0.8"/>
<line x1="374.30" y1="163.60" x2="374.30" y2="168.00" stroke="#231f20" stroke-width="0.8"/>
<line x1="389.00" y1="165.90" x2="393.40" y2="165.90" stroke="#231f20" stroke-width="0.8"/>
<line x1="405.90" y1="165.80" x2="410.30" y2="165.80" stroke="#231f20" stroke-width="0.8"/>
<line x1="408.10" y1="163.60" x2="408.10" y2="168.00" stroke="#231f20" stroke-width="0.8"/>
<line x1="422.80" y1="165.80" x2="427.20" y2="165.80" stroke="#231f20" stroke-width="0.8"/>
<line x1="425.00" y1="163.60" x2="425.00" y2="168.00" stroke="#231f20" stroke-width="0.8"/>
<line x1="439.70" y1="165.80" x2="444.10" y2="165.80" stroke="#231f20" stroke-width="0.8"/>
<line x1="441.90" y1="163.60" x2="441.90" y2="168.00" stroke="#231f20" stroke-width="0.8"/>
<line x1="321.40" y1="177.80" x2="325.80" y2="177.80" stroke="#231f20" stroke-width="0.8"/>
<line x1="338.30" y1="177.70" x2="342.70" y2="177.70" stroke="#231f20" stroke-width="0.8"/>
<line x1="340.50" y1="175.50" x2="340.50" y2="179.90" stroke="#231f20" stroke-width="0.8"/>
<line x1="355.20" y1="177.80" x2="359.60" y2="177.80" stroke="#231f20" stroke-width="0.8"/>
<line x1="372.10" y1="177.80" x2="376.50" y2="177.80" stroke="#231f20" stroke-width="0.8"/>
<line x1="389.00" y1="177.80" x2="393.40" y2="177.80" stroke="#231f20" stroke-width="0.8"/>
<line x1="405.90" y1="177.70" x2="410.30" y2="177.70" stroke="#231f20" stroke-width="0.8"/>
<line x1="408.10" y1="175.50" x2="408.10" y2="179.90" stroke="#231f20" stroke-width="0.8"/>
<line x1="422.80" y1="177.80" x2="427.20" y2="177.80" stroke="#231f20" stroke-width="0.8"/>
<line x1="439.70" y1="177.80" x2="444.10" y2="177.80" stroke="#231f20" stroke-width="0.8"/>
<line x1="321.40" y1="189.50" x2="325.80" y2="189.50" stroke="#231f20" stroke-width="0.8"/>
<line x1="338.30" y1="189.50" x2="342.70" y2="189.50" stroke="#231f20" stroke-width="0.8"/>
<line x1="355.20" y1="189.40" x2="359.60" y2="189.40" stroke="#231f20" stroke-width="0.8"/>
<line x1="357.40" y1="187.20" x2="357.40" y2="191.60" stroke="#231f20" stroke-width="0.8"/>
<line x1="372.10" y1="189.50" x2="376.50" y2="189.50" stroke="#231f20" stroke-width="0.8"/>
<line x1="389.00" y1="189.50" x2="393.40" y2="189.50" stroke="#231f20" stroke-width="0.8"/>
<line x1="405.90" y1="189.50" x2="410.30" y2="189.50" stroke="#231f20" stroke-width="0.8"/>
<line x1="422.80" y1="189.40" x2="427.20" y2="189.40" stroke="#231f20" stroke-width="0.8"/>
<line x1="425.00" y1="187.20" x2="425.00" y2="191.60" stroke="#231f20" stroke-width="0.8"/>
<line x1="439.70" y1="189.50" x2="444.10" y2="189.50" stroke="#231f20" stroke-width="0.8"/>
<line x1="321.40" y1="201.40" x2="325.80" y2="201.40" stroke="#231f20" stroke-width="0.8"/>
<line x1="338.30" y1="201.40" x2="342.70" y2="201.40" stroke="#231f20" stroke-width="0.8"/>
<line x1="355.20" y1="201.40" x2="359.60" y2="201.40" stroke="#231f20" stroke-width="0.8"/>
<line x1="372.10" y1="201.30" x2="376.50" y2="201.30" stroke="#231f20" stroke-width="0.8"/>
<line x1="374.30" y1="199.10" x2="374.30" y2="203.50" stroke="#231f20" stroke-width="0.8"/>
<line x1="389.00" y1="201.40" x2="393.40" y2="201.40" stroke="#231f20" stroke-width="0.8"/>
<line x1="405.90" y1="201.40" x2="410.30" y2="201.40" stroke="#231f20" stroke-width="0.8"/>
<line x1="422.80" y1="201.40" x2="427.20" y2="201.40" stroke="#231f20" stroke-width="0.8"/>
<line x1="439.70" y1="201.30" x2="444.10" y2="201.30" stroke="#231f20" stroke-width="0.8"/>
<line x1="441.90" y1="199.10" x2="441.90" y2="203.50" stroke="#231f20" stroke-width="0.8"/>
<line x1="323.60" y1="153.60" x2="337.40" y2="153.60" stroke="#231f20" stroke-width="1.1"/>
<line x1="360.50" y1="153.60" x2="374.30" y2="153.60" stroke="#231f20" stroke-width="1.1"/>
<line x1="323.60" y1="149.80" x2="323.60" y2="157.40" stroke="#231f20" stroke-width="1.1"/>
<line x1="374.30" y1="149.80" x2="374.30" y2="157.40" stroke="#231f20" stroke-width="1.1"/>
<text x="339.13" y="156.00" font-size="9.0" textLength="19.71" lengthAdjust="spacingAndGlyphs">High</text>
<line x1="390.80" y1="153.60" x2="404.80" y2="153.60" stroke="#231f20" stroke-width="1.1"/>
<line x1="427.10" y1="153.60" x2="441.90" y2="153.60" stroke="#231f20" stroke-width="1.1"/>
<line x1="390.80" y1="149.80" x2="390.80" y2="157.40" stroke="#231f20" stroke-width="1.1"/>
<line x1="441.90" y1="149.80" x2="441.90" y2="157.40" stroke="#231f20" stroke-width="1.1"/>
<text x="407.68" y="156.00" font-size="9.0" textLength="16.62" lengthAdjust="spacingAndGlyphs">Low</text>
<line x1="70.40" y1="256.60" x2="70.40" y2="356.80" stroke="#231f20" stroke-width="1.3"/>
<line x1="67.20" y1="356.20" x2="70.40" y2="356.20" stroke="#231f20" stroke-width="1.1"/>
<text x="63.40" y="359.20" font-size="8.5" text-anchor="end">0</text>
<line x1="67.20" y1="324.00" x2="70.40" y2="324.00" stroke="#231f20" stroke-width="1.1"/>
<text x="63.40" y="327.00" font-size="8.5" text-anchor="end">50</text>
<line x1="67.20" y1="291.80" x2="70.40" y2="291.80" stroke="#231f20" stroke-width="1.1"/>
<text x="63.40" y="294.80" font-size="8.5" text-anchor="end">100</text>
<line x1="67.20" y1="259.60" x2="70.40" y2="259.60" stroke="#231f20" stroke-width="1.1"/>
<text x="63.40" y="262.60" font-size="8.5" text-anchor="end">150</text>
<text x="0" y="0" font-size="9" text-anchor="middle" textLength="48.0" lengthAdjust="spacingAndGlyphs" fill="#231f20" transform="translate(45.3,305.8) rotate(-90)">pSTAT3 ΔMFI</text>
<line x1="81.50" y1="355.00" x2="81.50" y2="354.00" stroke="#231f20" stroke-width="1.1"/>
<line x1="79.35" y1="354.00" x2="84.35" y2="354.00" stroke="#231f20" stroke-width="1.1"/>
<rect x="76.35" y="355.00" width="11.00" height="1.20" fill="#a3002a"/>
<line x1="99.50" y1="290.40" x2="99.50" y2="273.10" stroke="#231f20" stroke-width="1.1"/>
<line x1="96.75" y1="273.10" x2="101.75" y2="273.10" stroke="#231f20" stroke-width="1.1"/>
<rect x="93.75" y="290.40" width="11.00" height="65.80" fill="#2e4a7c"/>
<line x1="116.50" y1="351.00" x2="116.50" y2="347.40" stroke="#231f20" stroke-width="1.1"/>
<line x1="114.15" y1="347.40" x2="119.15" y2="347.40" stroke="#231f20" stroke-width="1.1"/>
<rect x="111.15" y="351.00" width="11.00" height="5.20" fill="#68a644"/>
<line x1="134.50" y1="350.00" x2="134.50" y2="348.20" stroke="#231f20" stroke-width="1.1"/>
<line x1="131.55" y1="348.20" x2="136.55" y2="348.20" stroke="#231f20" stroke-width="1.1"/>
<rect x="128.55" y="350.00" width="11.00" height="6.20" fill="#522462"/>
<line x1="151.50" y1="355.00" x2="151.50" y2="354.30" stroke="#231f20" stroke-width="1.1"/>
<line x1="148.95" y1="354.30" x2="153.95" y2="354.30" stroke="#231f20" stroke-width="1.1"/>
<rect x="145.95" y="355.00" width="11.00" height="1.20" fill="#db8915"/>
<line x1="168.50" y1="349.00" x2="168.50" y2="344.50" stroke="#231f20" stroke-width="1.1"/>
<line x1="166.35" y1="344.50" x2="171.35" y2="344.50" stroke="#231f20" stroke-width="1.1"/>
<rect x="163.35" y="349.00" width="11.00" height="7.20" fill="#2e4a7c"/>
<line x1="186.50" y1="352.00" x2="186.50" y2="349.70" stroke="#231f20" stroke-width="1.1"/>
<line x1="183.75" y1="349.70" x2="188.75" y2="349.70" stroke="#231f20" stroke-width="1.1"/>
<rect x="180.75" y="352.00" width="11.00" height="4.20" fill="#68a644"/>
<line x1="203.50" y1="351.60" x2="203.50" y2="349.70" stroke="#231f20" stroke-width="1.1"/>
<line x1="201.15" y1="349.70" x2="206.15" y2="349.70" stroke="#231f20" stroke-width="1.1"/>
<rect x="198.15" y="351.60" width="11.00" height="4.60" fill="#522462"/>
<line x1="69.80" y1="356.20" x2="215.30" y2="356.20" stroke="#231f20" stroke-width="1.4"/>
<line x1="81.85" y1="356.20" x2="81.85" y2="359.40" stroke="#231f20" stroke-width="1.0"/>
<line x1="99.25" y1="356.20" x2="99.25" y2="359.40" stroke="#231f20" stroke-width="1.0"/>
<line x1="116.65" y1="356.20" x2="116.65" y2="359.40" stroke="#231f20" stroke-width="1.0"/>
<line x1="134.05" y1="356.20" x2="134.05" y2="359.40" stroke="#231f20" stroke-width="1.0"/>
<line x1="151.45" y1="356.20" x2="151.45" y2="359.40" stroke="#231f20" stroke-width="1.0"/>
<line x1="168.85" y1="356.20" x2="168.85" y2="359.40" stroke="#231f20" stroke-width="1.0"/>
<line x1="186.25" y1="356.20" x2="186.25" y2="359.40" stroke="#231f20" stroke-width="1.0"/>
<line x1="203.65" y1="356.20" x2="203.65" y2="359.40" stroke="#231f20" stroke-width="1.0"/>
<path d="M99.80,250.40 L99.80,246.20 L134.00,246.20 L134.00,250.40" stroke="#231f20" fill="none" stroke-width="1.1" stroke-linejoin="miter"/>
<text x="102.61" y="242.70" font-size="5.8" textLength="28.28" lengthAdjust="spacingAndGlyphs">p &lt; 0.0001</text>
<path d="M79.70,269.20 L79.70,264.60 L97.70,264.60 L97.70,269.20" stroke="#231f20" fill="none" stroke-width="1.1" stroke-linejoin="miter"/>
<path d="M99.20,269.20 L99.20,264.60 L117.40,264.60 L117.40,269.20" stroke="#231f20" fill="none" stroke-width="1.1" stroke-linejoin="miter"/>
<text x="74.52" y="261.50" font-size="5.8" textLength="27.56" lengthAdjust="spacingAndGlyphs">p &lt; 0.0001</text>
<text x="120.01" y="268.30" font-size="5.8" textLength="28.18" lengthAdjust="spacingAndGlyphs">p &lt; 0.0001</text>
<path d="M170.60,322.50 L170.60,317.80 L204.60,317.80 L204.60,322.50" stroke="#231f20" fill="none" stroke-width="1.1" stroke-linejoin="miter"/>
<text x="173.31" y="314.20" font-size="5.8" textLength="28.35" lengthAdjust="spacingAndGlyphs">p = 0.2913</text>
<path d="M150.40,341.50 L150.40,336.30 L167.70,336.30 L167.70,341.50" stroke="#231f20" fill="none" stroke-width="1.1" stroke-linejoin="miter"/>
<path d="M170.60,341.50 L170.60,336.30 L187.60,336.30 L187.60,341.50" stroke="#231f20" fill="none" stroke-width="1.1" stroke-linejoin="miter"/>
<text x="144.41" y="334.30" font-size="5.8" textLength="28.79" lengthAdjust="spacingAndGlyphs">p = 0.0081</text>
<text x="190.61" y="341.00" font-size="5.8" textLength="28.32" lengthAdjust="spacingAndGlyphs">p = 0.2708</text>
<text x="41.25" y="373.00" font-size="8.5" textLength="22.69" lengthAdjust="spacingAndGlyphs">ROR1</text>
<text x="47.65" y="384.20" font-size="8.5" textLength="16.17" lengthAdjust="spacingAndGlyphs">NLC</text>
<text x="21.38" y="395.80" font-size="8.5" textLength="42.73" lengthAdjust="spacingAndGlyphs">Control IgG</text>
<text x="22.86" y="407.90" font-size="8.5" textLength="40.65" lengthAdjust="spacingAndGlyphs">Anti-Wnt5a</text>
<text x="15.49" y="419.50" font-size="8.5" textLength="48.34" lengthAdjust="spacingAndGlyphs">Cirmtuzumab</text>
<line x1="79.65" y1="382.30" x2="84.05" y2="382.30" stroke="#231f20" stroke-width="0.8"/>
<line x1="97.05" y1="382.20" x2="101.45" y2="382.20" stroke="#231f20" stroke-width="0.8"/>
<line x1="99.25" y1="380.00" x2="99.25" y2="384.40" stroke="#231f20" stroke-width="0.8"/>
<line x1="114.45" y1="382.20" x2="118.85" y2="382.20" stroke="#231f20" stroke-width="0.8"/>
<line x1="116.65" y1="380.00" x2="116.65" y2="384.40" stroke="#231f20" stroke-width="0.8"/>
<line x1="131.85" y1="382.20" x2="136.25" y2="382.20" stroke="#231f20" stroke-width="0.8"/>
<line x1="134.05" y1="380.00" x2="134.05" y2="384.40" stroke="#231f20" stroke-width="0.8"/>
<line x1="149.25" y1="382.30" x2="153.65" y2="382.30" stroke="#231f20" stroke-width="0.8"/>
<line x1="166.65" y1="382.20" x2="171.05" y2="382.20" stroke="#231f20" stroke-width="0.8"/>
<line x1="168.85" y1="380.00" x2="168.85" y2="384.40" stroke="#231f20" stroke-width="0.8"/>
<line x1="184.05" y1="382.20" x2="188.45" y2="382.20" stroke="#231f20" stroke-width="0.8"/>
<line x1="186.25" y1="380.00" x2="186.25" y2="384.40" stroke="#231f20" stroke-width="0.8"/>
<line x1="201.45" y1="382.20" x2="205.85" y2="382.20" stroke="#231f20" stroke-width="0.8"/>
<line x1="203.65" y1="380.00" x2="203.65" y2="384.40" stroke="#231f20" stroke-width="0.8"/>
<line x1="79.65" y1="393.90" x2="84.05" y2="393.90" stroke="#231f20" stroke-width="0.8"/>
<line x1="97.05" y1="393.80" x2="101.45" y2="393.80" stroke="#231f20" stroke-width="0.8"/>
<line x1="99.25" y1="391.60" x2="99.25" y2="396.00" stroke="#231f20" stroke-width="0.8"/>
<line x1="114.45" y1="393.90" x2="118.85" y2="393.90" stroke="#231f20" stroke-width="0.8"/>
<line x1="131.85" y1="393.90" x2="136.25" y2="393.90" stroke="#231f20" stroke-width="0.8"/>
<line x1="149.25" y1="393.90" x2="153.65" y2="393.90" stroke="#231f20" stroke-width="0.8"/>
<line x1="166.65" y1="393.80" x2="171.05" y2="393.80" stroke="#231f20" stroke-width="0.8"/>
<line x1="168.85" y1="391.60" x2="168.85" y2="396.00" stroke="#231f20" stroke-width="0.8"/>
<line x1="184.05" y1="393.90" x2="188.45" y2="393.90" stroke="#231f20" stroke-width="0.8"/>
<line x1="201.45" y1="393.90" x2="205.85" y2="393.90" stroke="#231f20" stroke-width="0.8"/>
<line x1="79.65" y1="406.00" x2="84.05" y2="406.00" stroke="#231f20" stroke-width="0.8"/>
<line x1="97.05" y1="406.00" x2="101.45" y2="406.00" stroke="#231f20" stroke-width="0.8"/>
<line x1="114.45" y1="405.90" x2="118.85" y2="405.90" stroke="#231f20" stroke-width="0.8"/>
<line x1="116.65" y1="403.70" x2="116.65" y2="408.10" stroke="#231f20" stroke-width="0.8"/>
<line x1="131.85" y1="406.00" x2="136.25" y2="406.00" stroke="#231f20" stroke-width="0.8"/>
<line x1="149.25" y1="406.00" x2="153.65" y2="406.00" stroke="#231f20" stroke-width="0.8"/>
<line x1="166.65" y1="406.00" x2="171.05" y2="406.00" stroke="#231f20" stroke-width="0.8"/>
<line x1="184.05" y1="405.90" x2="188.45" y2="405.90" stroke="#231f20" stroke-width="0.8"/>
<line x1="186.25" y1="403.70" x2="186.25" y2="408.10" stroke="#231f20" stroke-width="0.8"/>
<line x1="201.45" y1="406.00" x2="205.85" y2="406.00" stroke="#231f20" stroke-width="0.8"/>
<line x1="79.65" y1="417.60" x2="84.05" y2="417.60" stroke="#231f20" stroke-width="0.8"/>
<line x1="97.05" y1="417.60" x2="101.45" y2="417.60" stroke="#231f20" stroke-width="0.8"/>
<line x1="114.45" y1="417.60" x2="118.85" y2="417.60" stroke="#231f20" stroke-width="0.8"/>
<line x1="131.85" y1="417.50" x2="136.25" y2="417.50" stroke="#231f20" stroke-width="0.8"/>
<line x1="134.05" y1="415.30" x2="134.05" y2="419.70" stroke="#231f20" stroke-width="0.8"/>
<line x1="149.25" y1="417.60" x2="153.65" y2="417.60" stroke="#231f20" stroke-width="0.8"/>
<line x1="166.65" y1="417.60" x2="171.05" y2="417.60" stroke="#231f20" stroke-width="0.8"/>
<line x1="184.05" y1="417.60" x2="188.45" y2="417.60" stroke="#231f20" stroke-width="0.8"/>
<line x1="201.45" y1="417.50" x2="205.85" y2="417.50" stroke="#231f20" stroke-width="0.8"/>
<line x1="203.65" y1="415.30" x2="203.65" y2="419.70" stroke="#231f20" stroke-width="0.8"/>
<line x1="81.50" y1="370.60" x2="96.30" y2="370.60" stroke="#231f20" stroke-width="1.1"/>
<line x1="117.60" y1="370.60" x2="134.00" y2="370.60" stroke="#231f20" stroke-width="1.1"/>
<line x1="81.50" y1="366.80" x2="81.50" y2="374.40" stroke="#231f20" stroke-width="1.1"/>
<line x1="134.00" y1="366.80" x2="134.00" y2="374.40" stroke="#231f20" stroke-width="1.1"/>
<text x="97.24" y="373.00" font-size="9.0" textLength="19.49" lengthAdjust="spacingAndGlyphs">High</text>
<line x1="151.30" y1="370.60" x2="165.60" y2="370.60" stroke="#231f20" stroke-width="1.1"/>
<line x1="186.00" y1="370.60" x2="203.50" y2="370.60" stroke="#231f20" stroke-width="1.1"/>
<line x1="151.30" y1="366.80" x2="151.30" y2="374.40" stroke="#231f20" stroke-width="1.1"/>
<line x1="203.50" y1="366.80" x2="203.50" y2="374.40" stroke="#231f20" stroke-width="1.1"/>
<text x="167.01" y="373.00" font-size="9.0" textLength="16.99" lengthAdjust="spacingAndGlyphs">Low</text>
<line x1="273.50" y1="252.60" x2="273.50" y2="356.40" stroke="#231f20" stroke-width="1.3"/>
<line x1="270.70" y1="352.80" x2="273.50" y2="352.80" stroke="#231f20" stroke-width="1.1"/>
<text x="267.20" y="355.80" font-size="8.4" text-anchor="end">0</text>
<line x1="270.70" y1="320.33" x2="273.50" y2="320.33" stroke="#231f20" stroke-width="1.1"/>
<text x="267.20" y="323.33" font-size="8.4" text-anchor="end">100</text>
<line x1="270.70" y1="287.87" x2="273.50" y2="287.87" stroke="#231f20" stroke-width="1.1"/>
<text x="267.20" y="290.87" font-size="8.4" text-anchor="end">200</text>
<line x1="270.70" y1="255.40" x2="273.50" y2="255.40" stroke="#231f20" stroke-width="1.1"/>
<text x="267.20" y="258.40" font-size="8.4" text-anchor="end">300</text>
<text x="0" y="0" font-size="9" text-anchor="middle" textLength="89.3" lengthAdjust="spacingAndGlyphs" fill="#231f20" transform="translate(246.4,304.0) rotate(-90)">mRNA relative expression</text>
<line x1="272.90" y1="356.00" x2="343.70" y2="356.00" stroke="#231f20" stroke-width="1.4"/>
<line x1="291.10" y1="356.00" x2="291.10" y2="359.20" stroke="#231f20" stroke-width="1.0"/>
<line x1="326.20" y1="356.00" x2="326.20" y2="359.20" stroke="#231f20" stroke-width="1.0"/>
<text x="283.60" y="369.60" font-size="8.4" textLength="14.84" lengthAdjust="spacingAndGlyphs">CLL</text>
<text x="317.42" y="369.60" font-size="8.4" textLength="16.92" lengthAdjust="spacingAndGlyphs">NLC</text>
<path d="M289.60,264.80 L289.60,258.90 L328.30,258.90 L328.30,264.80" stroke="#231f20" fill="none" stroke-width="1.1" stroke-linejoin="miter"/>
<text x="293.81" y="255.40" font-size="5.8" textLength="28.49" lengthAdjust="spacingAndGlyphs">p = 0.0047</text>
<line x1="291.00" y1="348.40" x2="291.00" y2="351.00" stroke="#231f20" stroke-width="1.1"/>
<line x1="285.10" y1="348.40" x2="296.90" y2="348.40" stroke="#231f20" stroke-width="1.1"/>
<line x1="279.20" y1="351.30" x2="302.70" y2="351.30" stroke="#231f20" stroke-width="1.2"/>
<line x1="326.10" y1="308.00" x2="326.10" y2="353.80" stroke="#4a4a4a" stroke-width="1.1"/>
<line x1="320.00" y1="308.00" x2="331.70" y2="308.00" stroke="#231f20" stroke-width="1.1"/>
<line x1="314.20" y1="330.10" x2="337.60" y2="330.10" stroke="#231f20" stroke-width="1.2"/>
<circle cx="283.0" cy="352.7" r="2.2" fill="#a3002a"/>
<circle cx="285.5" cy="352.7" r="2.2" fill="#a3002a"/>
<circle cx="288.0" cy="352.7" r="2.2" fill="#a3002a"/>
<circle cx="290.5" cy="352.7" r="2.2" fill="#a3002a"/>
<circle cx="293.0" cy="352.7" r="2.2" fill="#a3002a"/>
<circle cx="295.5" cy="352.7" r="2.2" fill="#a3002a"/>
<circle cx="298.0" cy="352.7" r="2.2" fill="#a3002a"/>
<circle cx="282.2" cy="352.0" r="2.1" fill="#a3002a"/>
<circle cx="299.8" cy="352.0" r="2.1" fill="#a3002a"/>
<circle cx="286.5" cy="353.0" r="2.1" fill="#a3002a"/>
<circle cx="295.5" cy="353.0" r="2.1" fill="#a3002a"/>
<circle cx="291" cy="353.2" r="2.1" fill="#a3002a"/>
<circle cx="288.1" cy="344.7" r="2.0" fill="#a3002a"/>
<circle cx="294.2" cy="345.5" r="2.0" fill="#a3002a"/>
<rect x="324.30" y="273.10" width="3.80" height="3.80" fill="#2e4a7c"/>
<rect x="324.20" y="310.70" width="3.80" height="3.80" fill="#2e4a7c"/>
<rect x="321.40" y="322.60" width="3.80" height="3.80" fill="#2e4a7c"/>
<rect x="330.10" y="323.30" width="3.80" height="3.80" fill="#2e4a7c"/>
<rect x="327.30" y="328.90" width="3.80" height="3.80" fill="#2e4a7c"/>
<rect x="321.40" y="331.40" width="3.80" height="3.80" fill="#2e4a7c"/>
<rect x="317.90" y="339.80" width="3.80" height="3.80" fill="#2e4a7c"/>
<rect x="324.20" y="340.80" width="3.80" height="3.80" fill="#2e4a7c"/>
<rect x="330.20" y="339.50" width="3.80" height="3.80" fill="#2e4a7c"/>
<rect x="321.00" y="350.70" width="3.80" height="3.80" fill="#2e4a7c"/>
<rect x="327.30" y="349.80" width="3.80" height="3.80" fill="#2e4a7c"/>
<line x1="393.30" y1="273.40" x2="393.30" y2="356.80" stroke="#231f20" stroke-width="1.3"/>
<line x1="390.30" y1="356.20" x2="393.30" y2="356.20" stroke="#231f20" stroke-width="1.1"/>
<text x="387.20" y="359.20" font-size="8.5" text-anchor="end">0</text>
<line x1="390.30" y1="336.25" x2="393.30" y2="336.25" stroke="#231f20" stroke-width="1.1"/>
<text x="387.20" y="339.25" font-size="8.5" text-anchor="end">0.2</text>
<line x1="390.30" y1="316.30" x2="393.30" y2="316.30" stroke="#231f20" stroke-width="1.1"/>
<text x="387.20" y="319.30" font-size="8.5" text-anchor="end">0.4</text>
<line x1="390.30" y1="296.35" x2="393.30" y2="296.35" stroke="#231f20" stroke-width="1.1"/>
<text x="387.20" y="299.35" font-size="8.5" text-anchor="end">0.6</text>
<line x1="390.30" y1="276.40" x2="393.30" y2="276.40" stroke="#231f20" stroke-width="1.1"/>
<text x="387.20" y="279.40" font-size="8.5" text-anchor="end">0.8</text>
<text x="0" y="0" font-size="9" text-anchor="middle" textLength="53.6" lengthAdjust="spacingAndGlyphs" fill="#231f20" transform="translate(369.0,315.1) rotate(-90)">Wnt5a (ng/ml)</text>
<line x1="402.50" y1="353.80" x2="402.50" y2="353.30" stroke="#231f20" stroke-width="1.1"/>
<line x1="400.30" y1="353.30" x2="404.30" y2="353.30" stroke="#231f20" stroke-width="1.1"/>
<rect x="398.05" y="353.80" width="8.50" height="2.40" fill="#2e4a7c"/>
<line x1="413.50" y1="354.40" x2="413.50" y2="353.80" stroke="#231f20" stroke-width="1.1"/>
<line x1="411.25" y1="353.80" x2="415.25" y2="353.80" stroke="#231f20" stroke-width="1.1"/>
<rect x="409.00" y="354.40" width="8.50" height="1.80" fill="#a3002a"/>
<line x1="432.50" y1="317.80" x2="432.50" y2="314.50" stroke="#231f20" stroke-width="1.1"/>
<line x1="430.20" y1="314.50" x2="434.20" y2="314.50" stroke="#231f20" stroke-width="1.1"/>
<rect x="427.95" y="317.80" width="8.50" height="38.40" fill="#2e4a7c"/>
<line x1="443.50" y1="354.10" x2="443.50" y2="353.30" stroke="#231f20" stroke-width="1.1"/>
<line x1="441.15" y1="353.30" x2="445.15" y2="353.30" stroke="#231f20" stroke-width="1.1"/>
<rect x="438.90" y="354.10" width="8.50" height="2.10" fill="#a3002a"/>
<line x1="462.50" y1="300.60" x2="462.50" y2="294.90" stroke="#231f20" stroke-width="1.1"/>
<line x1="460.10" y1="294.90" x2="464.10" y2="294.90" stroke="#231f20" stroke-width="1.1"/>
<rect x="457.85" y="300.60" width="8.50" height="55.60" fill="#2e4a7c"/>
<line x1="473.50" y1="354.20" x2="473.50" y2="353.40" stroke="#231f20" stroke-width="1.1"/>
<line x1="471.05" y1="353.40" x2="475.05" y2="353.40" stroke="#231f20" stroke-width="1.1"/>
<rect x="468.80" y="354.20" width="8.50" height="2.00" fill="#a3002a"/>
<line x1="492.50" y1="284.00" x2="492.50" y2="281.40" stroke="#231f20" stroke-width="1.1"/>
<line x1="490.00" y1="281.40" x2="494.00" y2="281.40" stroke="#231f20" stroke-width="1.1"/>
<rect x="487.75" y="284.00" width="8.50" height="72.20" fill="#2e4a7c"/>
<line x1="502.50" y1="351.20" x2="502.50" y2="347.80" stroke="#231f20" stroke-width="1.1"/>
<line x1="500.95" y1="347.80" x2="504.95" y2="347.80" stroke="#231f20" stroke-width="1.1"/>
<rect x="498.70" y="351.20" width="8.50" height="5.00" fill="#a3002a"/>
<line x1="390.30" y1="356.20" x2="511.40" y2="356.20" stroke="#231f20" stroke-width="1.4"/>
<line x1="407.80" y1="356.20" x2="407.80" y2="359.40" stroke="#231f20" stroke-width="1.0"/>
<line x1="437.70" y1="356.20" x2="437.70" y2="359.40" stroke="#231f20" stroke-width="1.0"/>
<line x1="467.60" y1="356.20" x2="467.60" y2="359.40" stroke="#231f20" stroke-width="1.0"/>
<line x1="497.50" y1="356.20" x2="497.50" y2="359.40" stroke="#231f20" stroke-width="1.0"/>
<text x="404.42" y="369.80" font-size="8.4" textLength="6.65" lengthAdjust="spacingAndGlyphs">ct</text>
<text x="432.98" y="369.80" font-size="8.4" textLength="9.98" lengthAdjust="spacingAndGlyphs">1h</text>
<text x="463.11" y="369.80" font-size="8.4" textLength="9.73" lengthAdjust="spacingAndGlyphs">2h</text>
<text x="493.10" y="369.80" font-size="8.4" textLength="9.63" lengthAdjust="spacingAndGlyphs">5h</text>
<text x="430.38" y="384.00" font-size="10.3" textLength="45.20" lengthAdjust="spacingAndGlyphs">Culture time</text>
<rect x="397.00" y="253.60" width="6.60" height="6.10" fill="#2e4a7c"/>
<text x="405.94" y="259.20" font-size="8.4" textLength="16.60" lengthAdjust="spacingAndGlyphs">NLC</text>
<rect x="430.10" y="253.60" width="6.70" height="6.10" fill="#a3002a"/>
<text x="439.84" y="259.30" font-size="8.4" textLength="13.38" lengthAdjust="spacingAndGlyphs">CLL</text>
<path d="M431.90,308.00 L431.90,305.70 L444.50,305.70 L444.50,308.00" stroke="#231f20" fill="none" stroke-width="1.1" stroke-linejoin="miter"/>
<text x="423.61" y="301.90" font-size="5.8" textLength="28.49" lengthAdjust="spacingAndGlyphs">p &lt; 0.0001</text>
<path d="M461.40,289.90 L461.40,287.50 L474.30,287.50 L474.30,289.90" stroke="#231f20" fill="none" stroke-width="1.1" stroke-linejoin="miter"/>
<text x="453.62" y="284.10" font-size="5.8" textLength="27.87" lengthAdjust="spacingAndGlyphs">p &lt; 0.0001</text>
<path d="M492.20,277.60 L492.20,275.40 L504.70,275.40 L504.70,277.60" stroke="#231f20" fill="none" stroke-width="1.1" stroke-linejoin="miter"/>
<text x="484.32" y="272.00" font-size="5.8" textLength="27.46" lengthAdjust="spacingAndGlyphs">p &lt; 0.0001</text>
<rect x="0.5" y="0.5" width="519" height="428" fill="none" stroke="#000" stroke-width="1"/>
</svg>
</body></html>
